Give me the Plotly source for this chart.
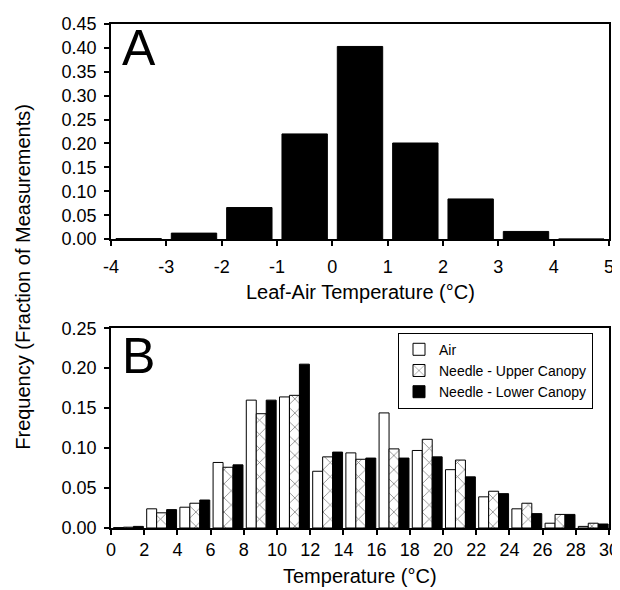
import plotly.graph_objects as go

# ---- Panel A data ----
a_centers = [-3.5, -2.5, -1.5, -0.5, 0.5, 1.5, 2.5, 3.5, 4.5]
a_freq = [0.001, 0.0125, 0.066, 0.220, 0.403, 0.201, 0.084, 0.016, 0.0]

# ---- Panel B data ----
b_bins = [0, 2, 4, 6, 8, 10, 12, 14, 16, 18, 20, 22, 24, 26, 28]
b_air = [0.0005, 0.024, 0.026, 0.082, 0.160, 0.164, 0.071, 0.094, 0.144, 0.097, 0.073, 0.039, 0.024, 0.006, 0.002]
b_upper = [0.001, 0.019, 0.031, 0.076, 0.143, 0.166, 0.089, 0.086, 0.099, 0.111, 0.085, 0.046, 0.031, 0.017, 0.006]
b_lower = [0.002, 0.023, 0.035, 0.079, 0.160, 0.205, 0.095, 0.0875, 0.0875, 0.089, 0.064, 0.043, 0.018, 0.017, 0.005]

a_xticks = [-4, -3, -2, -1, 0, 1, 2, 3, 4, 5]
b_xticks = list(range(0, 31, 2))

FONT = "Liberation Sans, Arial, Helvetica, sans-serif"

# the page body has an 8px margin; the figure is sized so that it fills the window
OFF = 8
W, H = 620 - OFF, 590 - OFF

fig = go.Figure()

fig.add_trace(go.Bar(
    x=a_centers, y=a_freq, width=0.82,
    marker=dict(color="black", line=dict(color="black", width=1)),
    xaxis="x", yaxis="y", showlegend=False,
))

fig.add_trace(go.Bar(
    x=b_bins, y=b_air, offset=0.15, width=0.6, name="Air",
    marker=dict(color="white", line=dict(color="black", width=1)),
    xaxis="x2", yaxis="y2",
))
fig.add_trace(go.Bar(
    x=b_bins, y=b_upper, offset=0.75, width=0.6, name="Needle - Upper Canopy",
    marker=dict(color="white", line=dict(color="black", width=1),
                pattern=dict(shape="x", fgcolor="black", bgcolor="white",
                             size=10, solidity=0.15)),
    xaxis="x2", yaxis="y2",
))
fig.add_trace(go.Bar(
    x=b_bins, y=b_lower, offset=1.35, width=0.6, name="Needle - Lower Canopy",
    marker=dict(color="black", line=dict(color="black", width=1)),
    xaxis="x2", yaxis="y2",
))

# reference-pixel -> paper coordinates (plot area spans x 111..609, y 24..528.5)
L, R, T, B = 111, 609, 24, 528.5
def px(pix):
    return (pix - L) / (R - L)
def py(pix):
    return (B - pix) / (B - T)

axis_common = dict(
    showline=True, linecolor="black", linewidth=1.5, mirror=True,
    ticks="outside", tickcolor="black", ticklen=5, tickwidth=1.5,
    showgrid=False, zeroline=False,
    tickfont=dict(family=FONT, size=18, color="black"),
)

def ann(text, x, y, size, **kw):
    return dict(text=text, x=px(x), y=py(y), xref="paper", yref="paper",
                xanchor="center", yanchor="middle", showarrow=False,
                font=dict(family=FONT, size=size, color="black"), **kw)

fig.update_layout(
    width=W, height=H,
    paper_bgcolor="white", plot_bgcolor="white",
    margin=dict(l=L - OFF, r=620 - R, t=T - OFF, b=590 - B, pad=0, autoexpand=False),
    barmode="overlay",
    font=dict(family=FONT, color="black"),
    xaxis=dict(domain=[0, 1], anchor="y", range=[-4, 5],
               tickvals=a_xticks, ticktext=[str(v) for v in a_xticks],
               ticklabelstandoff=6, **axis_common),
    yaxis=dict(domain=[py(239.3), 1], anchor="x", range=[0, 0.45],
               dtick=0.05, tickformat=".2f", ticklabelstandoff=4, **axis_common),
    xaxis2=dict(domain=[0, 1], anchor="y2", range=[0, 30],
                tickvals=b_xticks, ticktext=[str(v) for v in b_xticks],
                **axis_common),
    yaxis2=dict(domain=[0, py(328.5)], anchor="x2", range=[0, 0.25],
                dtick=0.05, tickformat=".2f", ticklabelstandoff=4, **axis_common),
    legend=dict(x=px(398), y=py(333), xanchor="left", yanchor="top",
                bordercolor="black", borderwidth=1, bgcolor="white",
                font=dict(family=FONT, size=14, color="black"),
                tracegroupgap=0, itemwidth=30),
    annotations=[
        ann("A", 139, 48, 50),
        ann("B", 138, 356, 50),
        ann("Leaf-Air Temperature (°C)", 360, 292, 20),
        ann("Temperature (°C)", 360, 577, 20),
        ann("Frequency (Fraction of Measurements)", 23, 277, 20, textangle=-90),
    ],
)

fig.write_html("out.html")
